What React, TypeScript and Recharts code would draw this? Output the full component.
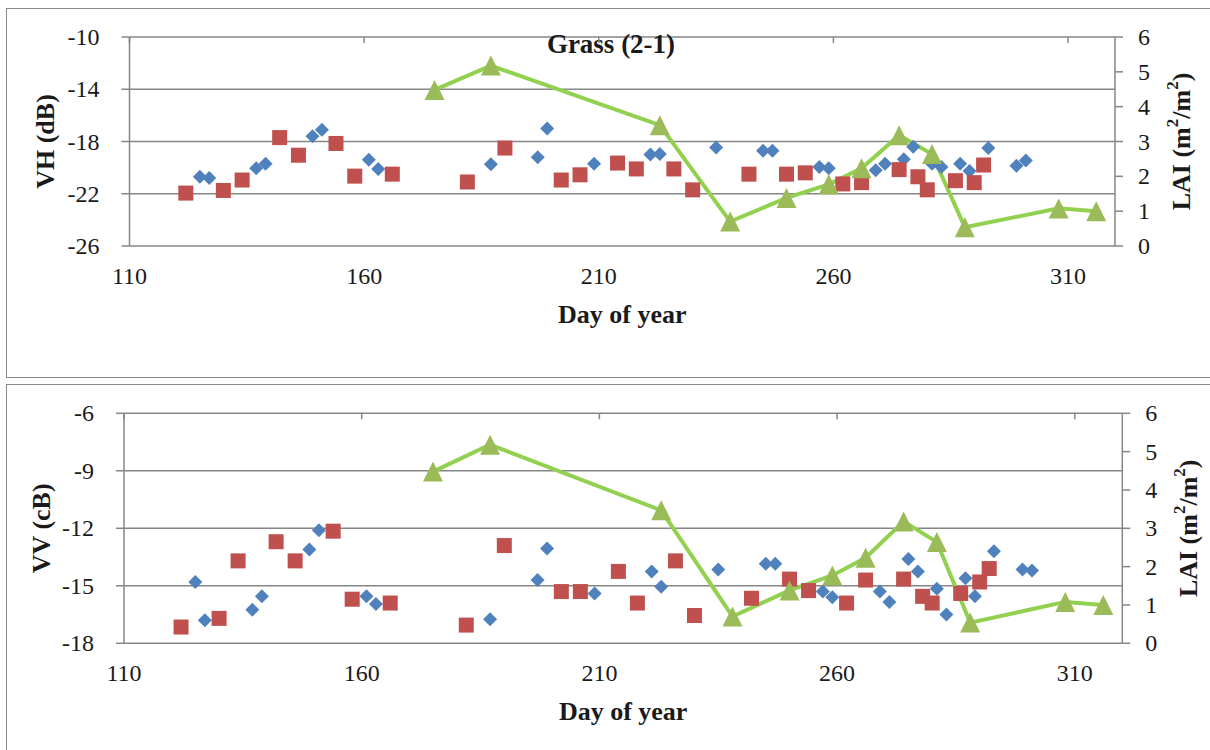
import { CartesianGrid, ComposedChart, Line, Scatter, XAxis, YAxis } from 'recharts'

const FONT = '"Liberation Serif", "Times New Roman", serif'
const AXIS_GREY = '#868686'
const TEXT = '#1a1a1a'
const BLUE = '#4F81BD'
const RED = '#C0504D'
const GREEN_MARK = '#9BBB59'
const GREEN_LINE = '#92D050'

const X_TICKS = [110, 160, 210, 260, 310]
const LAI_TICKS = [0, 1, 2, 3, 4, 5, 6]
const VH_TICKS = [-26, -22, -18, -14, -10]
const VV_TICKS = [-18, -15, -12, -9, -6]

// acquisition days (two orbits, blue and red)
const blueDays = [125, 127, 137, 139, 149, 151, 161, 163, 187, 197, 199, 209, 221, 223, 235, 245, 247, 257, 259, 269, 271, 275, 277, 281, 283, 287, 289, 293, 299, 301]
const redDays = [122, 130, 134, 142, 146, 154, 158, 166, 182, 190, 202, 206, 214, 218, 226, 230, 242, 250, 254, 262, 266, 274, 278, 280, 286, 290, 292]

const vhBlue = [-20.7, -20.8, -20.05, -19.7, -17.6, -17.1, -19.4, -20.1, -19.75, -19.2, -17.0, -19.7, -19.0, -18.95, -18.45, -18.7, -18.7, -19.95, -20.05, -20.2, -19.7, -19.35, -18.4, -19.7, -19.95, -19.7, -20.25, -18.5, -19.85, -19.45]
const vhRed = [-21.95, -21.75, -20.95, -17.7, -19.05, -18.15, -20.65, -20.5, -21.1, -18.5, -20.95, -20.55, -19.65, -20.1, -20.1, -21.7, -20.5, -20.5, -20.4, -21.25, -21.15, -20.15, -20.7, -21.7, -21.0, -21.15, -19.8]

const vvBlue = [-14.8, -16.8, -16.25, -15.55, -13.1, -12.1, -15.55, -15.95, -16.75, -14.7, -13.05, -15.4, -14.25, -15.05, -14.15, -13.85, -13.85, -15.3, -15.6, -15.3, -15.85, -13.6, -14.25, -15.15, -16.5, -14.6, -15.55, -13.2, -14.15, -14.2]
const vvRed = [-17.15, -16.7, -13.7, -12.7, -13.7, -12.15, -15.7, -15.9, -17.05, -12.9, -15.3, -15.3, -14.25, -15.9, -13.7, -16.55, -15.65, -14.65, -15.25, -15.9, -14.7, -14.65, -15.55, -15.9, -15.4, -14.8, -14.1]

const laiDays = [175, 187, 223, 238, 250, 259, 266, 274, 281, 288, 308, 316]
const laiValues = [4.48, 5.18, 3.47, 0.7, 1.38, 1.77, 2.23, 3.18, 2.64, 0.54, 1.08, 1.0]

const toPoints = (days: number[], vals: number[]) => days.map((day, i) => ({ day, v: vals[i] }))
const laiData = laiDays.map((day, i) => ({ day, lai: laiValues[i] }))

const Diamond = (p: any) =>
  p.cx == null ? null : (
    <polygon
      points={`${p.cx},${p.cy - 7} ${p.cx + 7},${p.cy} ${p.cx},${p.cy + 7} ${p.cx - 7},${p.cy}`}
      fill={BLUE}
    />
  )

const Square = (p: any) =>
  p.cx == null ? null : <rect x={p.cx - 7.5} y={p.cy - 7.5} width={15} height={15} fill={RED} />

const Triangle = (p: any) =>
  p.cx == null ? null : (
    <polygon
      key={p.index}
      points={`${p.cx},${p.cy - 10} ${p.cx + 10},${p.cy + 10} ${p.cx - 10},${p.cy + 10}`}
      fill={GREEN_MARK}
    />
  )

type PanelProps = {
  height: number
  plotTop: number
  plotBottom: number
  plotLeft: number
  plotRight: number
  yDomain: [number, number]
  yTicks: number[]
  blue: { day: number; v: number }[]
  red: { day: number; v: number }[]
  yLabel: string
  yLabelX: number
  laiLabelX: number
  title?: string
}

function Panel(props: PanelProps) {
  const { height, plotTop, plotBottom, plotLeft, plotRight } = props
  const midY = (plotTop + plotBottom) / 2
  const midX = (plotLeft + plotRight) / 2

  const xTick = (t: any) => (
    <g>
      <line x1={t.x} x2={t.x} y1={plotTop} y2={plotTop + 6} stroke={AXIS_GREY} strokeWidth={1.5} />
      <text x={t.x} y={t.y + 38} textAnchor="middle" fontFamily={FONT} fontSize={24} fill={TEXT}>
        {t.payload.value}
      </text>
    </g>
  )

  const yTick = (anchor: 'start' | 'end') => (t: any) => (
    <text x={t.x} y={t.y} dy={8} textAnchor={anchor} fontFamily={FONT} fontSize={24} fill={TEXT}>
      {t.payload.value}
    </text>
  )

  return (
    <ComposedChart
      width={1210}
      height={height}
      style={{ fontFamily: FONT }}
      margin={{
        top: plotTop,
        left: plotLeft - 100,
        right: 1210 - plotRight - 70,
        bottom: height - plotBottom - 60
      }}
    >
      <CartesianGrid yAxisId="l" vertical={false} stroke={AXIS_GREY} strokeWidth={1.5} />
      <XAxis
        dataKey="day"
        type="number"
        domain={[110, 320]}
        ticks={X_TICKS}
        height={60}
        axisLine={false}
        tickLine={false}
        tickSize={0}
        tickMargin={0}
        tick={xTick}
        interval={0}
      />
      <YAxis
        yAxisId="l"
        dataKey="v"
        type="number"
        domain={props.yDomain}
        ticks={props.yTicks}
        width={100}
        interval={0}
        stroke={AXIS_GREY}
        strokeWidth={1.5}
        tickSize={8}
        tickMargin={22}
        tick={yTick('end')}
      />
      <YAxis
        yAxisId="r"
        orientation="right"
        dataKey="lai"
        type="number"
        domain={[0, 6]}
        ticks={LAI_TICKS}
        width={70}
        interval={0}
        stroke={AXIS_GREY}
        strokeWidth={1.5}
        tickSize={8}
        tickMargin={15}
        tick={yTick('start')}
      />
      <Scatter yAxisId="l" data={props.blue} dataKey="v" shape={Diamond} isAnimationActive={false} />
      <Scatter yAxisId="l" data={props.red} dataKey="v" shape={Square} isAnimationActive={false} />
      <Line
        yAxisId="r"
        data={laiData}
        dataKey="lai"
        stroke={GREEN_LINE}
        strokeWidth={4}
        dot={Triangle}
        activeDot={false}
        isAnimationActive={false}
      />
      <text
        transform={`translate(${props.yLabelX},${midY}) rotate(-90)`}
        textAnchor="middle"
        dominantBaseline="central"
        fontFamily={FONT}
        fontSize={26}
        fontWeight="bold"
        fill={TEXT}
      >
        {props.yLabel}
      </text>
      <text
        transform={`translate(${props.laiLabelX},${midY}) rotate(-90)`}
        textAnchor="middle"
        dominantBaseline="central"
        fontFamily={FONT}
        fontSize={26}
        fontWeight="bold"
        fill={TEXT}
      >
        LAI (m<tspan dy={-9} fontSize={17}>2</tspan>
        <tspan dy={9}>/m</tspan>
        <tspan dy={-9} fontSize={17}>2</tspan>
        <tspan dy={9}>)</tspan>
      </text>
      <text x={midX} y={plotBottom + 77} textAnchor="middle" fontFamily={FONT} fontSize={26} fontWeight="bold" fill={TEXT}>
        Day of year
      </text>
      {props.title && (
        <text x={611} y={plotTop + 16} textAnchor="middle" fontFamily={FONT} fontSize={27} fontWeight="bold" fill={TEXT}>
          {props.title}
        </text>
      )}
    </ComposedChart>
  )
}

export default function App() {
  const border = '1.5px solid #8a8a8a'
  return (
    <div style={{ position: 'absolute', left: 0, top: 0, width: 1210, height: 750, overflow: 'hidden', background: '#fff', fontFamily: FONT }}>
      <div style={{ position: 'absolute', left: 6, top: 8, width: 1220, height: 370, border, boxSizing: 'border-box' }} />
      <div style={{ position: 'absolute', left: 6, top: 384, width: 1220, height: 400, border, boxSizing: 'border-box' }} />
      <div style={{ position: 'absolute', left: 0, top: 0 }}>
        <Panel
          height={380}
          plotTop={37}
          plotBottom={246}
          plotLeft={129.5}
          plotRight={1115}
          yDomain={[-26, -10]}
          yTicks={VH_TICKS}
          blue={toPoints(blueDays, vhBlue)}
          red={toPoints(redDays, vhRed)}
          yLabel="VH (dB)"
          yLabelX={45}
          laiLabelX={1181}
          title="Grass (2-1)"
        />
      </div>
      <div style={{ position: 'absolute', left: 0, top: 380 }}>
        <Panel
          height={370}
          plotTop={33.3}
          plotBottom={263.3}
          plotLeft={124}
          plotRight={1122.3}
          yDomain={[-18, -6]}
          yTicks={VV_TICKS}
          blue={toPoints(blueDays, vvBlue)}
          red={toPoints(redDays, vvRed)}
          yLabel="VV (cB)"
          yLabelX={41}
          laiLabelX={1188}
        />
      </div>
    </div>
  )
}
